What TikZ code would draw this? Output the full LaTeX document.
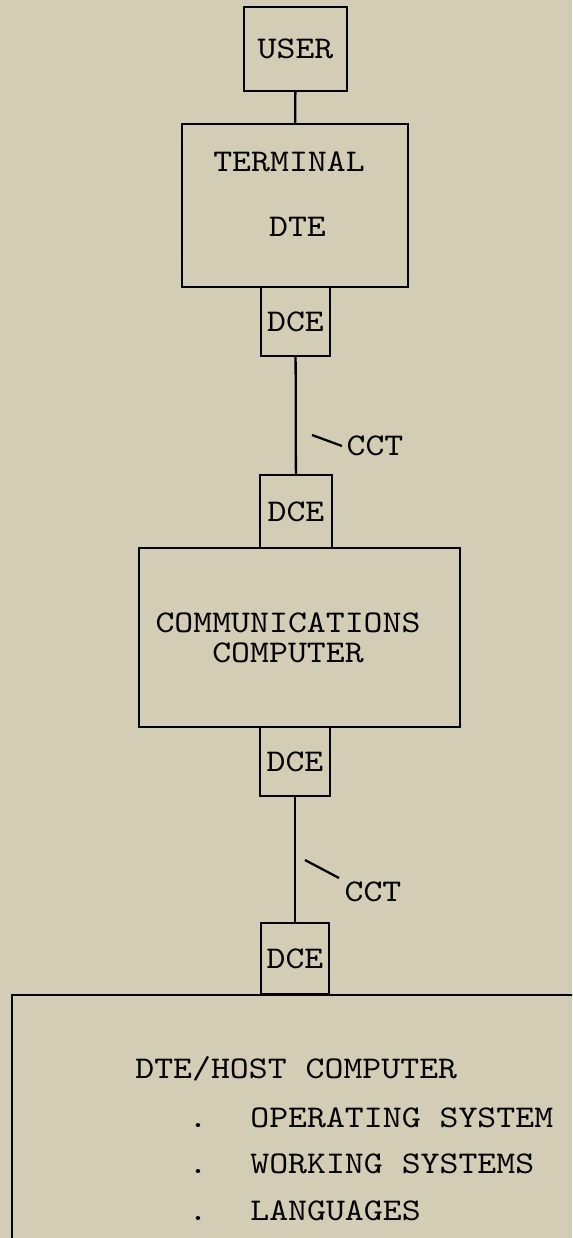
\documentclass[tikz,border=0pt]{standalone}
\usepackage{fontspec}
\setmonofont{lmmono10-regular.otf}[FakeStretch=1.14]
\usepackage{xcolor}
\usetikzlibrary{positioning}
\definecolor{paper}{RGB}{212,205,182}
\newcommand{\typed}{\fontsize{18}{22}\selectfont\ttfamily}

\begin{document}
\begin{tikzpicture}[x=0.02cm, y=-0.02cm]
    % Styles
    \tikzstyle{unit} = [rectangle, draw=black, line width=1.3pt, inner sep=0pt, font=\typed]
    \tikzstyle{txt} = [inner sep=0pt, font=\typed]
    \tikzstyle{wire} = [line width=1.3pt]

    % Paper
    \path[use as bounding box, fill=paper] (0,0) rectangle (572,1238);
    \clip (0,0) rectangle (572,1238);

    % Terminal side
    \node (user) [unit, minimum width=2.06cm, minimum height=1.68cm] at (295.5,49) {USER};
    \node (terminal) [unit, minimum width=4.52cm, minimum height=3.26cm] at (295,205.5) {};
    \node (termname) [txt] at (289,162) {TERMINAL};
    \node (termdte) [txt] at (297.5,227) {DTE};
    \node (dceA) [unit, minimum width=1.38cm, minimum height=1.38cm] at (295.5,321.5) {DCE};

    % Communications computer
    \node (dceB) [unit, minimum width=1.44cm, minimum height=1.46cm] at (296,511.5) {DCE};
    \node (comm) [unit, minimum width=6.42cm, minimum height=3.58cm] at (299.5,637.5) {};
    \node (commname) [txt, align=center] at (288,638) {COMMUNICATIONS\\[-5pt]COMPUTER};
    \node (dceC) [unit, minimum width=1.40cm, minimum height=1.38cm] at (295,761.5) {DCE};

    % Host side
    \node (dceD) [unit, minimum width=1.36cm, minimum height=1.42cm] at (295,958.5) {DCE};
    \node (host) [unit, anchor=north west, minimum width=11.9cm, minimum height=4.88cm] at (11,994) {};
    \node (hostname) [txt, anchor=base west] at (135,1078) {DTE/HOST COMPUTER};
    \node (dotA) [txt, anchor=base] at (198,1127) {\textbf{.}};
    \node (os) [txt, anchor=base west] at (250,1127) {OPERATING SYSTEM};
    \node (dotB) [txt, anchor=base] at (198,1173) {\textbf{.}};
    \node (ws) [txt, anchor=base west] at (250,1173) {WORKING SYSTEMS};
    \node (dotC) [txt, anchor=base] at (198,1220) {\textbf{.}};
    \node (lang) [txt, anchor=base west] at (250,1220) {LANGUAGES};

    % Circuits
    \node (cctA) [txt] at (375,446) {CCT};
    \node (cctB) [txt] at (373,892) {CCT};
    \coordinate (tickA) at (312,435);
    \coordinate (tickB) at (305,860);

    % Lines
    \draw [wire] (user) -- (terminal);
    \draw [wire] (dceA) -- (dceB);
    \draw [wire] (dceC) -- (dceD);
    \draw [wire] (tickA) -- ++(30,11);
    \draw [wire] (tickB) -- ++(34,18);

\end{tikzpicture}
\end{document}
